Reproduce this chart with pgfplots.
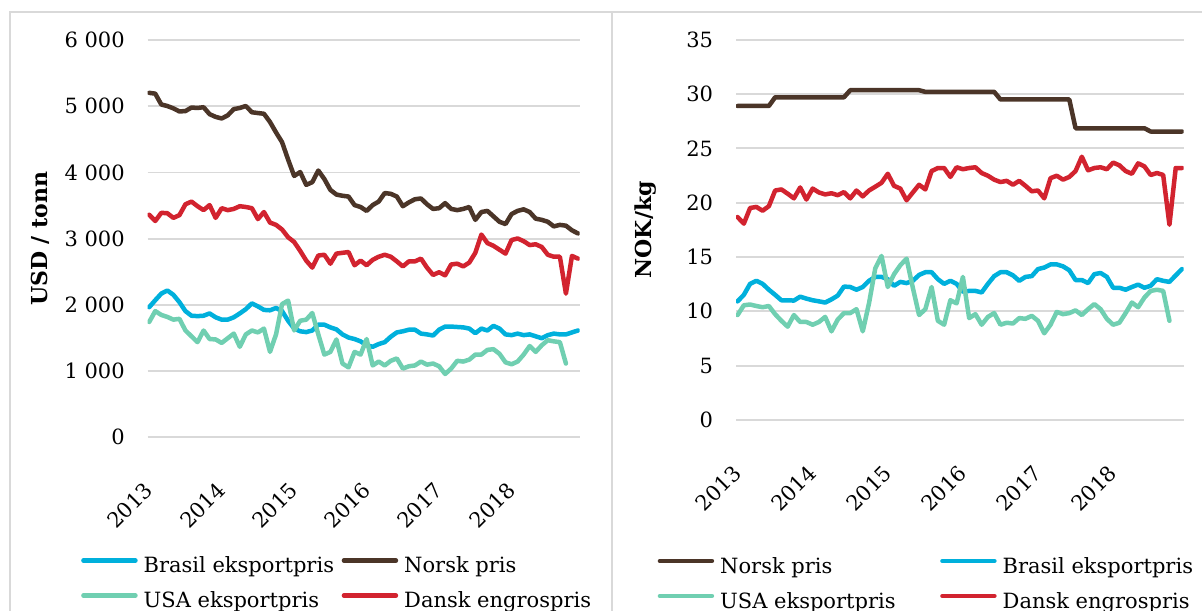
\documentclass[border=0pt]{standalone}
\usepackage{fontspec}
\setmainfont{DejaVu Serif}
\usepackage{pgfplots}
\usepackage{pgfplotstable}
\pgfplotsset{compat=1.18}
\definecolor{cBlue}{HTML}{00B0DC}
\definecolor{cBrown}{HTML}{4B3528}
\definecolor{cMint}{HTML}{70CFB1}
\definecolor{cRed}{HTML}{D2232F}
\definecolor{gridgray}{HTML}{D9D9D9}

% USD / tonn
\pgfplotstableread{
m norsk dansk brasil usa
0 5202 3361 1965 1742
1 5190 3267 2070 1906
2 5026 3390 2170 1848
3 5003 3384 2217 1818
4 4968 3314 2152 1777
5 4921 3355 2041 1789
6 4927 3519 1906 1613
7 4980 3560 1836 1525
8 4974 3490 1830 1437
9 4985 3431 1836 1613
10 4880 3507 1871 1484
11 4839 3314 1812 1478
12 4815 3460 1777 1425
13 4862 3431 1777 1496
14 4956 3449 1812 1566
15 4974 3490 1871 1367
16 5003 3478 1935 1554
17 4909 3460 2023 1613
18 4897 3296 1977 1584
19 4886 3402 1924 1642
20 4762 3243 1918 1290
21 4604 3208 1953 1554
22 4457 3138 1906 2012
23 4194 3021 1760 2065
24 3947 2950 1642 1613
25 4006 2815 1601 1760
26 3812 2669 1589 1777
27 3853 2563 1613 1877
28 4029 2745 1701 1554
29 3900 2757 1701 1249
30 3736 2622 1660 1290
31 3666 2774 1630 1478
32 3648 2786 1554 1114
33 3636 2798 1507 1056
34 3507 2598 1484 1290
35 3478 2669 1449 1249
36 3419 2598 1390 1484
37 3507 2680 1367 1085
38 3560 2727 1408 1144
39 3689 2757 1437 1085
40 3677 2727 1519 1155
41 3636 2657 1584 1191
42 3490 2581 1601 1038
43 3548 2657 1625 1073
44 3595 2657 1625 1085
45 3607 2698 1566 1144
46 3519 2563 1554 1097
47 3449 2452 1537 1114
48 3460 2493 1625 1073
49 3537 2446 1672 956
50 3449 2610 1672 1038
51 3431 2622 1666 1155
52 3449 2581 1660 1144
53 3478 2639 1642 1173
54 3284 2786 1572 1249
55 3402 3062 1642 1249
56 3419 2933 1613 1320
57 3337 2892 1683 1331
58 3255 2833 1642 1261
59 3220 2774 1554 1132
60 3372 2979 1543 1103
61 3419 3003 1566 1144
62 3443 2962 1543 1249
63 3402 2903 1554 1378
64 3302 2915 1525 1290
65 3284 2874 1496 1390
66 3255 2757 1543 1466
67 3185 2727 1566 1449
68 3208 2727 1554 1437
69 3196 2170 1554 1114
70 3126 2739 1584 nan
71 3079 2698 1613 nan
}\usdtable

% NOK / kg
\pgfplotstableread{
m norsk dansk brasil usa
0 28.9 18.68 10.92 9.66
1 28.9 18.07 11.52 10.56
2 28.9 19.51 12.53 10.63
3 28.9 19.61 12.81 10.49
4 28.9 19.26 12.53 10.38
5 28.9 19.68 11.99 10.49
6 29.7 21.12 11.52 9.74
7 29.7 21.22 11.02 9.13
8 29.7 20.83 11.02 8.59
9 29.7 20.40 10.99 9.66
10 29.7 21.40 11.35 9.02
11 29.7 20.29 11.17 9.02
12 29.7 21.30 11.02 8.77
13 29.7 20.94 10.92 9.02
14 29.7 20.76 10.81 9.49
15 29.7 20.87 11.10 8.16
16 29.7 20.69 11.45 9.24
17 29.7 20.97 12.28 9.84
18 30.35 20.40 12.24 9.84
19 30.35 21.12 11.99 10.20
20 30.35 20.58 12.24 8.16
21 30.35 21.12 12.81 10.74
22 30.35 21.47 13.17 13.96
23 30.35 21.83 13.17 15.10
24 30.35 22.66 12.96 12.24
25 30.35 21.55 12.35 13.42
26 30.35 21.30 12.71 14.24
27 30.35 20.22 12.60 14.85
28 30.35 20.94 12.81 12.17
29 30.35 21.65 13.35 9.66
30 30.2 21.22 13.60 10.20
31 30.2 22.91 13.60 12.24
32 30.2 23.19 12.96 9.13
33 30.2 23.19 12.53 8.77
34 30.2 22.37 12.81 11.02
35 30.2 23.26 12.53 10.74
36 30.2 23.08 11.81 13.17
37 30.2 23.19 11.88 9.38
38 30.2 23.26 11.88 9.74
39 30.2 22.73 11.74 8.77
40 30.2 22.48 12.53 9.49
41 30.2 22.12 13.24 9.84
42 29.5 21.90 13.60 8.77
43 29.5 22.01 13.60 8.95
44 29.5 21.65 13.31 8.88
45 29.5 22.01 12.81 9.38
46 29.5 21.55 13.17 9.31
47 29.5 21.05 13.24 9.59
48 29.5 21.12 13.89 9.13
49 29.5 20.40 14.03 7.98
50 29.5 22.26 14.32 8.77
51 29.5 22.48 14.32 9.95
52 29.5 22.12 14.14 9.74
53 29.5 22.37 13.78 9.84
54 26.85 22.91 12.88 10.09
55 26.85 24.23 12.88 9.66
56 26.85 22.98 12.60 10.20
57 26.85 23.19 13.42 10.67
58 26.85 23.26 13.53 10.20
59 26.85 23.08 13.17 9.31
60 26.85 23.69 12.17 8.77
61 26.85 23.44 12.17 8.95
62 26.85 22.91 11.99 9.84
63 26.85 22.66 12.24 10.81
64 26.85 23.62 12.46 10.38
65 26.85 23.34 12.17 11.27
66 26.55 22.55 12.35 11.88
67 26.55 22.73 12.96 11.99
68 26.55 22.55 12.81 11.88
69 26.55 17.97 12.71 9.13
70 26.55 23.19 13.31 nan
71 26.55 23.19 13.89 nan
}\noktable

\pgfplotsset{
  panel/.style={
    scale only axis,
    xmin=-0.25, xmax=71.25, ymin=0,
    axis line style={draw=none},
    tick style={draw=none}, major tick length=0pt,
    ymajorgrids, grid style={color=gridgray, line width=0.9pt},
    xtick={0,12,24,36,48,60},
    xticklabels={2013,2014,2015,2016,2017,2018},
    xticklabel style={anchor=east, inner sep=0pt, xshift=0pt, yshift=-24.5pt, rotate=45},
    yticklabel style={anchor=east, inner sep=0pt, xshift=-11.3pt},
    tick label style={font=\fontsize{10.5}{12}\selectfont},
    /pgf/number format/assume math mode=true,
    /pgf/number format/1000 sep={\ },
    unbounded coords=jump,
    every axis plot/.append style={line width=2.25pt, line join=round, line cap=round, mark=none},
    legend columns=2,
    legend cell align=left,
    legend image code/.code={\draw[##1] (0pt,3.4pt) -- (26pt,3.4pt);},
    legend style={draw=none, fill=none, inner sep=0pt, outer sep=0pt,
      font=\fontsize{10.5}{12}\selectfont, row sep=7pt, anchor=north west,
      nodes={inner sep=0pt, text height=8pt, text depth=2.5pt},
      /tikz/every odd column/.append style={column sep=3pt}},
  }
}

\begin{document}
\begin{tikzpicture}
\path[use as bounding box] (0,0) rectangle (601pt,305pt);
% left panel
\begin{axis}[panel,
  at={(73.85pt,86.35pt)}, anchor=south west,
  width=215.9pt, height=198.65pt,
  ymax=6000, ytick={0,1000,...,6000},
  ylabel={USD / tonn},
  ylabel style={at={(axis description cs:-0.2494,0.5)}, anchor=center, font=\bfseries\fontsize{11}{13}\selectfont},
  legend style={at={(axis description cs:-0.154,-0.301)}},
]
\addplot[color=cBlue] table[x=m, y=brasil] {\usdtable};
\addlegendentry{\makebox[99pt][l]{Brasil eksportpris}}
\addplot[color=cBrown] table[x=m, y=norsk] {\usdtable};
\addlegendentry{Norsk pris}
\addplot[color=cMint] table[x=m, y=usa] {\usdtable};
\addlegendentry{\makebox[99pt][l]{USA eksportpris}}
\addplot[color=cRed] table[x=m, y=dansk] {\usdtable};
\addlegendentry{Dansk engrospris}
\end{axis}
% right panel
\begin{axis}[panel,
  at={(368pt,95pt)}, anchor=south west,
  width=223.75pt, height=190.15pt,
  ymax=35, ytick={0,5,...,35},
  ylabel={NOK/kg},
  ylabel style={at={(axis description cs:-0.2018,0.5)}, anchor=center, font=\bfseries\fontsize{11}{13}\selectfont},
  legend style={at={(axis description cs:-0.175,-0.361)}},
]
\addplot[color=cBrown] table[x=m, y=norsk] {\noktable};
\addlegendentry{\makebox[110pt][l]{Norsk pris}}
\addplot[color=cBlue] table[x=m, y=brasil] {\noktable};
\addlegendentry{Brasil eksportpris}
\addplot[color=cMint] table[x=m, y=usa] {\noktable};
\addlegendentry{\makebox[110pt][l]{USA eksportpris}}
\addplot[color=cRed] table[x=m, y=dansk] {\noktable};
\addlegendentry{Dansk engrospris}
\end{axis}
% panel frames
\draw[gridgray, line width=1.1pt] (5pt,-5pt) -- (5pt,299.15pt) -- (606pt,299.15pt);
\draw[gridgray, line width=1.1pt] (305.85pt,-5pt) -- (305.85pt,299.15pt);
\end{tikzpicture}
\end{document}
